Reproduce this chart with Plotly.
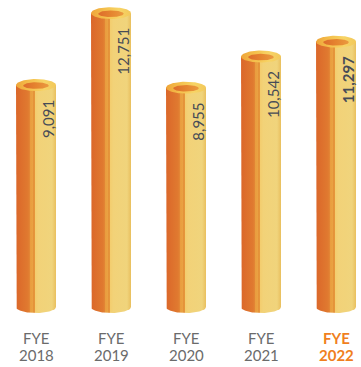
import numpy as np
import plotly.graph_objects as go

# ---- data ----
categories = ["2018", "2019", "2020", "2021", "2022"]
tick_prefix = "FYE"
values = [9091, 12751, 8955, 10542, 11297]
value_labels = ["9,091", "12,751", "8,955", "10,542", "11,297"]
highlight_index = 4

# ---- layout / style constants ----
W, H = 361, 367
M_L, M_R, M_T, M_B = 0, 0, 0, 47
X_RANGE = [-0.48, 4.333]
Y_RANGE = [-2876, 13420]
BASE = -2214
HALF_W_PX = 20
RY_PX = 6

plot_w = W - M_L - M_R
plot_h = H - M_T - M_B
x_per_px = (X_RANGE[1] - X_RANGE[0]) / plot_w
y_per_px = (Y_RANGE[1] - Y_RANGE[0]) / plot_h
hw = HALF_W_PX * x_per_px
ry = RY_PX * y_per_px

body_scale = [
    [0.00, "#DB672A"], [0.30, "#E07A30"], [0.35, "#E38735"],
    [0.36, "#E99D3F"], [0.42, "#EAA242"], [0.43, "#E4923A"],
    [0.47, "#E6973B"], [0.48, "#F3CD6E"], [0.56, "#F2D278"],
    [0.90, "#F0D47C"], [1.00, "#E9BF5E"],
]
rim_scale = [[0.0, "#EFA53A"], [0.35, "#F4C04C"], [0.7, "#F7D466"], [1.0, "#F2C85A"]]
hole_scale = [[0.0, "#DD6C2C"], [0.5, "#E5842F"], [1.0, "#EA9A40"]]

GRAY = "#6B6B6B"
ORANGE = "#F07F1E"

fig = go.Figure()
t_low = np.linspace(np.pi, 2 * np.pi, 60)
t_full = np.linspace(0, 2 * np.pi, 120)

for i, v in enumerate(values):
    # body: rectangle with elliptical bottom
    xs = [i - hw] + list(i + hw * np.cos(t_low)) + [i + hw, i - hw]
    ys = [v] + list(BASE + ry * np.sin(t_low)) + [v, v]
    fig.add_trace(go.Scatter(
        x=xs, y=ys, mode="lines", fill="toself", line=dict(width=0),
        fillgradient=dict(type="horizontal", colorscale=body_scale),
        hoverinfo="skip", showlegend=False))
    # top rim ellipse
    fig.add_trace(go.Scatter(
        x=i + hw * np.cos(t_full), y=v + ry * np.sin(t_full),
        mode="lines", fill="toself", line=dict(width=0),
        fillgradient=dict(type="horizontal", colorscale=rim_scale),
        hoverinfo="skip", showlegend=False))
    # inner hole
    fig.add_trace(go.Scatter(
        x=i + 0.64 * hw * np.cos(t_full), y=v - 0.1 * ry + 0.55 * ry * np.sin(t_full),
        mode="lines", fill="toself", line=dict(width=0),
        fillgradient=dict(type="horizontal", colorscale=hole_scale),
        hoverinfo="skip", showlegend=False))
    # value label
    hl = i == highlight_index
    txt = "<b>%s</b>" % value_labels[i] if hl else value_labels[i]
    fig.add_annotation(
        x=i + 12 * x_per_px, y=v, yshift=-13, text=txt, textangle=-90,
        xanchor="center", yanchor="top", showarrow=False,
        font=dict(family="Lato", size=15, color="#474C57"))
    # category labels (two rows)
    col = ORANGE if hl else GRAY
    for row_txt, shift in ((tick_prefix, -18), (categories[i], -35)):
        fig.add_annotation(
            x=i, xref="x", y=0, yref="paper", yshift=shift,
            text="<b>%s</b>" % row_txt if hl else row_txt,
            xanchor="center", yanchor="middle", showarrow=False,
            font=dict(family="Lato", size=15, color=col))

fig.update_layout(
    width=W, height=H, margin=dict(l=M_L, r=M_R, t=M_T, b=M_B),
    paper_bgcolor="white", plot_bgcolor="white",
    xaxis=dict(range=X_RANGE, showticklabels=False,
               showgrid=False, zeroline=False, showline=False, ticks=""),
    yaxis=dict(range=Y_RANGE, visible=False, showgrid=False, zeroline=False),
)
fig.write_html("out.html", config={"displayModeBar": False},
               post_script="document.body.style.margin='0';document.body.style.overflow='hidden';")
